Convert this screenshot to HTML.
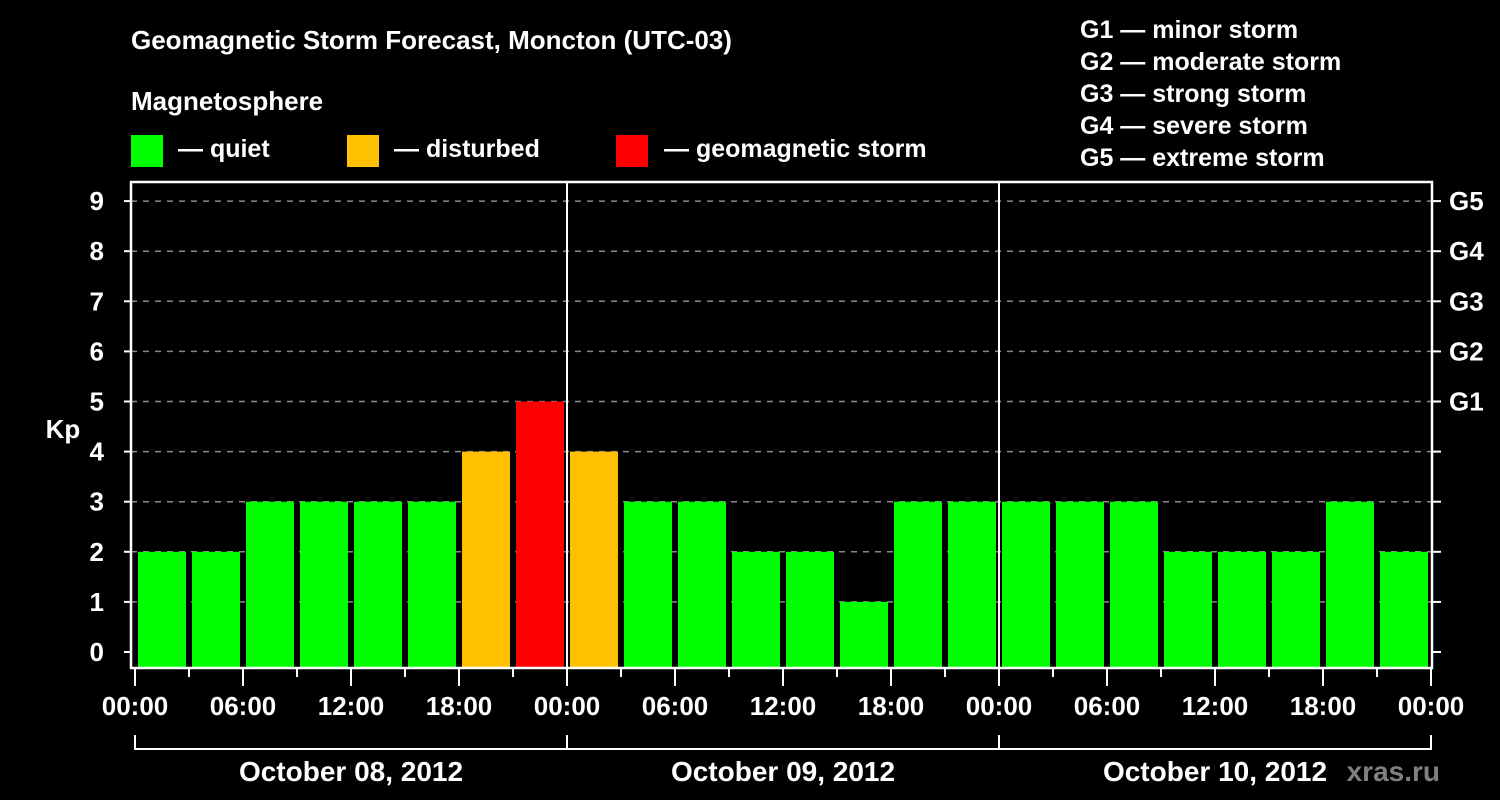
<!DOCTYPE html>
<html><head><meta charset="utf-8"><style>
html,body{margin:0;padding:0;background:#000;}
svg{display:block;font-family:"Liberation Sans",Arial,sans-serif;font-weight:bold;}
</style></head><body>
<svg id="chart" width="1500" height="800" viewBox="0 0 1500 800">
<rect width="1500" height="800" fill="#000"/>
<text x="131" y="49" fill="#fff" font-size="26">Geomagnetic Storm Forecast, Moncton (UTC-03)</text>
<text x="131" y="110" fill="#fff" font-size="26">Magnetosphere</text>
<g><rect x="131" y="135" width="32" height="32" fill="#00ff00"/><text x="178" y="157" fill="#fff" font-size="25">— quiet</text></g>
<g><rect x="347" y="135" width="32" height="32" fill="#ffc000"/><text x="394" y="157" fill="#fff" font-size="25">— disturbed</text></g>
<g><rect x="616" y="135" width="32" height="32" fill="#ff0000"/><text x="664" y="157" fill="#fff" font-size="25">— geomagnetic storm</text></g>
<g fill="#fff" font-size="25">
<text x="1080" y="38">G1 — minor storm</text>
<text x="1080" y="70">G2 — moderate storm</text>
<text x="1080" y="102">G3 — strong storm</text>
<text x="1080" y="134">G4 — severe storm</text>
<text x="1080" y="166">G5 — extreme storm</text>
</g>
<text x="63" y="438" fill="#fff" font-size="26" text-anchor="middle">Kp</text>
<text x="1440" y="781" fill="#808080" font-size="28" text-anchor="end">xras.ru</text>
<g id="grid"></g><g id="bars"></g><g id="axes"></g>
</svg>
<script>
const values=[2,2,3,3,3,3,4,5,4,3,3,2,2,1,3,3,3,3,3,2,2,2,3,2];
const yTicks=[0,1,2,3,4,5,6,7,8,9];
const gLabels=["","","","","","G1","G2","G3","G4","G5"];
const xTickLabels=["00:00","06:00","12:00","18:00","00:00","06:00","12:00","18:00","00:00","06:00","12:00","18:00","00:00"];
const dayLabels=["October 08, 2012","October 09, 2012","October 10, 2012"];
const NS="http://www.w3.org/2000/svg";
const X0=135,X1=1431,L=131,R=1432,T=182,B=668;
const y=v=>652-v*50.1;
const x=h=>X0+(X1-X0)*h/72;
function mk(tag,attrs,parent,txt){const e=document.createElementNS(NS,tag);for(const k in attrs)e.setAttribute(k,attrs[k]);if(txt!==undefined)e.textContent=txt;document.getElementById(parent).appendChild(e);return e;}
yTicks.forEach((v,i)=>{
 if(v>0){const g=mk('line',{x1:L,x2:R,y1:y(v),y2:y(v),stroke:'#888','stroke-width':1.5,'stroke-dasharray':'6,6'},'grid');
 }
 const t=mk('line',{x1:124,x2:L,y1:y(v),y2:y(v),stroke:'#fff','stroke-width':2},'axes');
 
 const lb=mk('text',{x:104,y:y(v)+9,fill:'#fff','font-size':26,'text-anchor':'end'},'axes',String(v));
 
 const rt=mk('line',{x1:R,x2:1441,y1:y(v),y2:y(v),stroke:'#fff','stroke-width':2},'axes');
 
 if(gLabels[i]){const gl=mk('text',{x:1449,y:y(v)+9,fill:'#fff','font-size':26},'axes',gLabels[i]);
 }
});
values.forEach((v,i)=>{
 const c=v>=5?'#ff0000':(v>=4?'#ffc000':'#00ff00');
 const b=mk('rect',{x:x(i*3)+3,y:y(v),width:x(3)-x(0)-6,height:B-y(v),fill:c},'bars');
 
});
const fr=mk('rect',{x:L,y:T,width:R-L,height:B-T,fill:'none',stroke:'#fff','stroke-width':2.5},'axes');

for(let d=1;d<3;d++){const l=mk('line',{x1:x(d*24),x2:x(d*24),y1:T,y2:B,stroke:'#fff','stroke-width':2},'axes');
 }
for(let h=0;h<=72;h+=3){const major=h%6===0;
 const t=mk('line',{x1:x(h),x2:x(h),y1:B,y2:major?686:677,stroke:'#fff','stroke-width':2},'axes');
 }
xTickLabels.forEach((s,i)=>{const t=mk('text',{x:x(i*6),y:715,fill:'#fff','font-size':26,'text-anchor':'middle'},'axes',s);
 });
const br=mk('path',{d:`M${x(0)},735V749H${x(72)}V735`,fill:'none',stroke:'#fff','stroke-width':2},'axes');

for(let d=1;d<3;d++){const l=mk('line',{x1:x(d*24),x2:x(d*24),y1:735,y2:749,stroke:'#fff','stroke-width':2},'axes');
 }
dayLabels.forEach((s,i)=>{const t=mk('text',{x:x(i*24+12),y:781,fill:'#fff','font-size':28,'text-anchor':'middle'},'axes',s);
 });
</script>
</body></html>
